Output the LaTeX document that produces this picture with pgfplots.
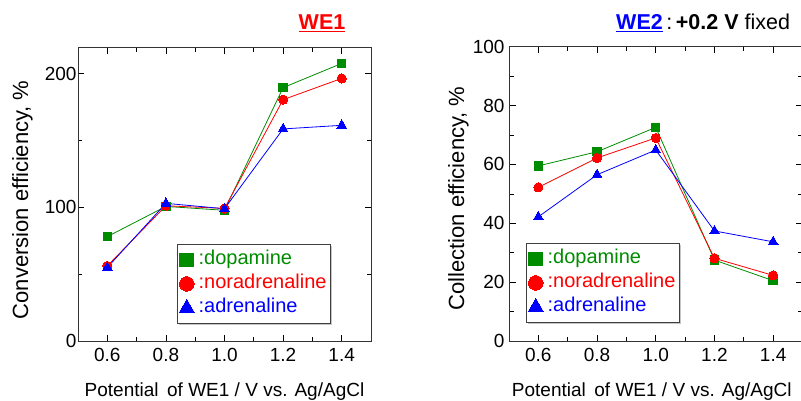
\documentclass[border=0pt]{standalone}
\usepackage{pgfplots}
\pgfplotsset{compat=1.18}
\usepackage{fontspec}
\setmainfont{Liberation Sans}
\usetikzlibrary{shadows}

\definecolor{dgreen}{RGB}{0,140,0}
\definecolor{pred}{RGB}{255,0,0}
\definecolor{pblue}{RGB}{0,0,255}

\newcommand{\legtxt}[2]{\kern3pt\textcolor{#1}{:#2}}

\pgfplotsset{
  effplot/.style={
    scale only axis, anchor=south west,
    xmin=0.5, xmax=1.5,
    xtick={0.6,0.8,1.0,1.2,1.4},
    xticklabels={0.6,0.8,1.0,1.2,1.4},
    minor xtick={0.7,0.9,1.1,1.3},
    tick pos=both, tick align=inside,
    major tick length=6.5pt, minor tick length=4.5pt,
    every tick/.style={black, line width=0.7pt},
    axis line style={black!80, line width=0.8pt},
    tick label style={font=\fontsize{19}{19}\selectfont},
    xticklabel style={yshift=-4pt},
    every axis x label/.style={at={(axis description cs:0.5,0)}, anchor=base,
      yshift=-55pt, font=\fontsize{19}{19}\selectfont},
    every axis y label/.style={rotate=90, anchor=base,
      font=\fontsize{22}{22}\selectfont},
    xlabel={Potential\hspace{0.45em}of WE1 / V vs. Ag/AgCl},
    legend cell align=left,
    legend image code/.code={\draw[##1] plot coordinates {(0pt,0pt)};},
    legend style={anchor=north west, draw=black!75, line width=0.8pt, fill=white,
      drop shadow={shadow xshift=1.5pt, shadow yshift=-1.5pt, fill=black!45},
      font=\fontsize{20}{20}\selectfont, inner xsep=2pt, inner ysep=5pt, row sep=3pt,
      nodes={inner sep=1.5pt, text height=14pt, text depth=4pt}},
  },
  dop/.style={dgreen, line width=0.8pt, mark=square*, mark size=4.2pt,
    mark options={fill=dgreen, draw=dgreen, line width=0pt},
    legend image post style={mark size=6.8pt}},
  nor/.style={pred, line width=0.8pt, mark=*, mark size=4.6pt,
    mark options={fill=pred, draw=pred, line width=0pt},
    legend image post style={mark size=7.3pt}},
  adr/.style={pblue, line width=0.8pt, mark=triangle*, mark size=5.6pt,
    mark options={fill=pblue, draw=pblue, line width=0pt},
    legend image post style={mark size=8.5pt}},
}

\begin{document}
\begin{tikzpicture}
\path[use as bounding box, clip] (0,0) rectangle (801pt,400pt);

% left panel: WE1 conversion efficiency
\begin{axis}[effplot,
  at={(78pt,59pt)}, width=293pt, height=294pt,
  ymin=0, ymax=220,
  ytick={0,100,200}, yticklabels={0,100,200}, minor ytick={50,150},
  yticklabel style={xshift=2pt},
  ylabel={Conversion efficiency, \%},
  ylabel style={at={(axis description cs:-0.1706,0.48)}},
  legend style={at={(0.338,0.33)}},
]
\addplot[dop] coordinates {(0.6,78.1) (0.8,100.7) (1.0,97.8) (1.2,189.6) (1.4,207.7)};
\addplot[nor] coordinates {(0.6,56.2) (0.8,101.2) (1.0,99.2) (1.2,180.6) (1.4,196.5)};
\addplot[adr] coordinates {(0.6,55.0) (0.8,103.0) (1.0,99.0) (1.2,158.7) (1.4,161.4)};
\legend{\legtxt{dgreen}{dopamine},\legtxt{pred}{noradrenaline},\legtxt{pblue}{adrenaline}}
\end{axis}

% right panel: WE2 collection efficiency
\begin{axis}[effplot,
  at={(509pt,59pt)}, width=293.5pt, height=294.3pt,
  ymin=0, ymax=100,
  ytick={0,20,40,60,80,100}, yticklabels={0,20,40,60,80,100},
  minor ytick={10,30,50,70,90},
  yticklabel style={xshift=-1pt},
  ylabel={Collection efficiency, \%},
  ylabel style={at={(axis description cs:-0.153,0.484)}},
  xlabel style={xshift=-4pt},
  legend style={at={(0.058,0.333)}},
]
\addplot[dop] coordinates {(0.6,59.5) (0.8,64.3) (1.0,72.6) (1.2,27.5) (1.4,20.5)};
\addplot[nor] coordinates {(0.6,52.2) (0.8,62.2) (1.0,69.0) (1.2,28.1) (1.4,22.3)};
\addplot[adr] coordinates {(0.6,42.2) (0.8,56.5) (1.0,64.9) (1.2,37.4) (1.4,33.7)};
\legend{\legtxt{dgreen}{dopamine},\legtxt{pred}{noradrenaline},\legtxt{pblue}{adrenaline}}
\end{axis}

\node[anchor=base, font=\fontsize{21.5}{21.5}\selectfont\bfseries, text=pred]
  at (322pt,370pt) {\underline{WE1}};
\node[anchor=base west, font=\fontsize{21.5}{21.5}\selectfont, inner sep=0pt]
  at (616pt,370pt) {\textcolor{pblue}{\underline{\textbf{WE2}}}\,:\,\textbf{+0.2 V} fixed};
\end{tikzpicture}
\end{document}
